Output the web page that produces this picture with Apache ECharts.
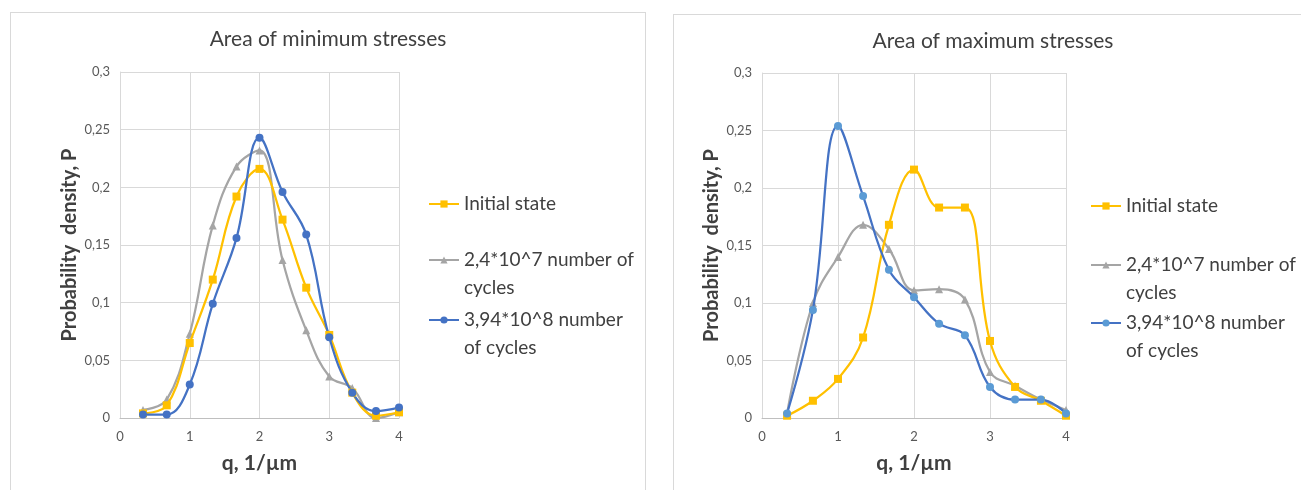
<!DOCTYPE html>
<html>
<head>
<meta charset="utf-8">
<script src="https://cdn.jsdelivr.net/npm/echarts@6/dist/echarts.min.js"></script>
<style>
  html, body { margin: 0; padding: 0; background: #fff; width: 1301px; height: 490px; overflow: hidden; }
  .box { position: absolute; border: 1px solid #d9d9d9; background: #fff; }
  #chartMin { left: 10px; top: 12px; width: 634px; height: 490px; }
  #chartMax { left: 673px; top: 14px; width: 640px; height: 490px; }
</style>
</head>
<body>
<div id="chartMin" class="box"></div>
<div id="chartMax" class="box"></div>
<script>
// q values, 1/um
const qValues = [0.33, 0.67, 1, 1.33, 1.67, 2, 2.33, 2.67, 3, 3.33, 3.67, 4];
const seriesNames = ['Initial state', '2,4*10^7 number of cycles', '3,94*10^8 number of cycles'];

// area of minimum stresses
const minInitial = [0.004, 0.011, 0.065, 0.120, 0.192, 0.216, 0.172, 0.113, 0.072, 0.022, 0.002, 0.005];
const minCycles7 = [0.007, 0.016, 0.073, 0.167, 0.218, 0.232, 0.137, 0.076, 0.036, 0.026, 0.000, 0.005];
const minCycles8 = [0.003, 0.003, 0.029, 0.099, 0.156, 0.243, 0.196, 0.159, 0.070, 0.022, 0.006, 0.009];

// area of maximum stresses
const maxInitial = [0.002, 0.015, 0.034, 0.070, 0.168, 0.216, 0.183, 0.183, 0.067, 0.027, 0.015, 0.002];
const maxCycles7 = [0.004, 0.100, 0.140, 0.168, 0.147, 0.111, 0.112, 0.103, 0.040, 0.028, 0.016, 0.007];
const maxCycles8 = [0.004, 0.094, 0.254, 0.193, 0.129, 0.105, 0.082, 0.072, 0.027, 0.016, 0.016, 0.004];

const yTicks = { min: 0, max: 0.3, interval: 0.05 };
const xTicks = { min: 0, max: 4, interval: 1 };

const FONT = 'Lato';

function pairs(ys) {
  return qValues.map((q, i) => [q, ys[i]]);
}

function makeSeries(data, name, symbol, color, markerColor) {
  return {
    type: 'line',
    name: name,
    data: pairs(data),
    smooth: 0.4,
    symbol: symbol,
    symbolSize: 8,
    lineStyle: { color: color, width: 2.25 },
    itemStyle: { color: markerColor || color },
    z: symbol === 'triangle' ? 2 : 3
  };
}

function legendItem(name, top, left) {
  return {
    data: [name],
    orient: 'vertical',
    left: left,
    top: top,
    padding: 0,
    itemWidth: 30,
    itemHeight: 9,
    formatter: function (n) {
      // blank first line keeps the icon level with the first text line
      if (n === seriesNames[1]) return '\n2,4*10^7 number of\ncycles';
      if (n === seriesNames[2]) return '\n3,94*10^8 number\nof cycles';
      return n;
    },
    textStyle: { fontFamily: FONT, fontSize: 19, color: '#404040', lineHeight: 28 },
    selectedMode: false
  };
}

function buildOption(cfg) {
  return {
    animation: false,
    title: {
      text: cfg.title,
      left: cfg.titleX,
      top: cfg.titleY,
      padding: 0,
      textAlign: 'center',
      textStyle: { fontFamily: FONT, fontSize: 21, fontWeight: 'normal', color: '#404040' }
    },
    legend: [
      legendItem(seriesNames[0], cfg.legendTop[0], cfg.legendLeft),
      legendItem(seriesNames[1], cfg.legendTop[1], cfg.legendLeft),
      legendItem(seriesNames[2], cfg.legendTop[2], cfg.legendLeft)
    ],
    grid: { left: cfg.grid[0], top: cfg.grid[1], width: cfg.grid[2], height: cfg.grid[3] },
    xAxis: {
      type: 'value',
      min: xTicks.min, max: xTicks.max, interval: xTicks.interval,
      name: 'q, 1/\u00b5m',
      nameLocation: 'middle',
      nameGap: 35,
      nameTextStyle: { fontFamily: FONT, fontSize: 21, fontWeight: 'bold', color: '#404040' },
      axisLine: { show: true, lineStyle: { color: '#bfbfbf', width: 1 } },
      axisTick: { show: false },
      axisLabel: { fontFamily: FONT, fontSize: 13, color: '#595959', margin: 12 },
      splitLine: { show: true, lineStyle: { color: '#d9d9d9', width: 1 } }
    },
    yAxis: {
      type: 'value',
      min: yTicks.min, max: yTicks.max, interval: yTicks.interval,
      name: 'Probability  density, P',
      nameLocation: 'middle',
      nameGap: 40,
      nameTextStyle: { fontFamily: FONT, fontSize: 20, fontWeight: 'bold', color: '#404040' },
      axisLine: { show: true, lineStyle: { color: '#d9d9d9', width: 1 } },
      axisTick: { show: false },
      axisLabel: {
        fontFamily: FONT, fontSize: 13, color: '#595959', margin: 10,
        formatter: function (v) { return String(+v.toFixed(2)).replace('.', ','); }
      },
      splitLine: { show: true, lineStyle: { color: '#d9d9d9', width: 1 } }
    },
    series: [
      makeSeries(cfg.data[0], seriesNames[0], 'rect', '#ffc000'),
      makeSeries(cfg.data[1], seriesNames[1], 'triangle', '#a5a5a5'),
      makeSeries(cfg.data[2], seriesNames[2], 'circle', '#4472c4', cfg.blueMarker)
    ]
  };
}

const chartMin = echarts.init(document.getElementById('chartMin'), null, { renderer: 'canvas' });
chartMin.setOption(buildOption({
  title: 'Area of minimum stresses',
  titleX: 317, titleY: 16,
  grid: [109, 59, 279, 346],
  legendLeft: 417,
  legendTop: [177, 205, 265],
  data: [minInitial, minCycles7, minCycles8]
}));

const chartMax = echarts.init(document.getElementById('chartMax'), null, { renderer: 'canvas' });
chartMax.setOption(buildOption({
  title: 'Area of maximum stresses',
  titleX: 319, titleY: 16,
  grid: [88, 58, 304, 345],
  legendLeft: 416,
  legendTop: [177, 208, 266],
  data: [maxInitial, maxCycles7, maxCycles8],
  blueMarker: '#5b9bd5'
}));
</script>
</body>
</html>
